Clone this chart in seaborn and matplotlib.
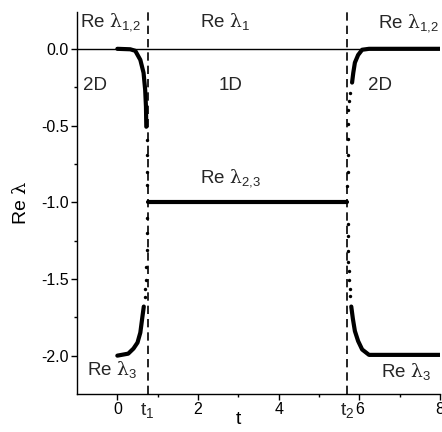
import matplotlib
matplotlib.use("Agg")
import matplotlib.pyplot as plt
import matplotlib.transforms as mtransforms
import seaborn as sns

# ---- data ----
t1 = 0.75
t2 = 5.69

# left branches (0 <= t < t1)
lu_t = [0.0, 0.32, 0.445, 0.57, 0.65, 0.69, 0.71, 0.718]
lu_y = [0.0, -0.003, -0.013, -0.072, -0.156, -0.267, -0.378, -0.508]
lu_dot_t = [0.725, 0.73, 0.735, 0.74]
lu_dot_y = [-0.593, -0.691, -0.801, -0.886]

ll_t = [0.0, 0.27, 0.40, 0.50, 0.57, 0.62, 0.656]
ll_y = [-2.0, -1.987, -1.954, -1.915, -1.85, -1.75, -1.68]
ll_dot_t = [0.68, 0.69, 0.70, 0.71, 0.725, 0.74, 0.74]
ll_dot_y = [-1.616, -1.564, -1.505, -1.42, -1.31, -1.20, -1.10]

# right branches (t > t2)
ru_t = [5.82, 5.85, 5.89, 5.97, 6.07, 6.24, 8.0]
ru_y = [-0.22, -0.156, -0.09, -0.04, -0.006, 0.0, 0.0]
ru_dot_t = [5.705, 5.71, 5.71, 5.72, 5.72, 5.725, 5.74, 5.77]
ru_dot_y = [-0.896, -0.80, -0.69, -0.59, -0.49, -0.40, -0.34, -0.29]

rl_t = [5.80, 5.84, 5.89, 5.97, 6.07, 6.24, 8.0]
rl_y = [-1.68, -1.76, -1.84, -1.905, -1.96, -1.995, -1.995]
rl_dot_t = [5.72, 5.72, 5.72, 5.73, 5.74, 5.755, 5.77, 5.78]
rl_dot_y = [-1.143, -1.22, -1.32, -1.39, -1.45, -1.51, -1.565, -1.61]

# middle region
mid_t = [t1, t2]
mid_y = [-1.0, -1.0]
zero_t = [-1.0, 8.0]
zero_y = [0.0, 0.0]

x_ticks = [0, 2, 4, 6, 8]
y_ticks = [0.0, -0.5, -1.0, -1.5, -2.0]

# ---- style ----
sns.set_style("ticks")
plt.rcParams["font.family"] = ["Liberation Sans", "DejaVu Sans"]
plt.rcParams["mathtext.fontset"] = "custom"
plt.rcParams["mathtext.rm"] = "Liberation Sans"
plt.rcParams["mathtext.it"] = "DejaVu Serif"
plt.rcParams["mathtext.bf"] = "Liberation Sans:bold"

fig = plt.figure(figsize=(4.42, 4.32), dpi=100)
ax = fig.add_axes([77 / 442, 38 / 432, 363 / 442, 382 / 432])

K = "black"
sns.lineplot(x=zero_t, y=zero_y, ax=ax, color=K, lw=1.0, estimator=None, sort=False)
sns.lineplot(x=mid_t, y=mid_y, ax=ax, color=K, lw=3.0, estimator=None, sort=False)
for tt, yy in [(lu_t, lu_y), (ll_t, ll_y), (ru_t, ru_y), (rl_t, rl_y)]:
    sns.lineplot(x=tt, y=yy, ax=ax, color=K, lw=3.0, estimator=None, sort=False)
for tt, yy in [(lu_dot_t, lu_dot_y), (ll_dot_t, ll_dot_y), (ru_dot_t, ru_dot_y), (rl_dot_t, rl_dot_y)]:
    sns.scatterplot(x=tt, y=yy, ax=ax, color=K, s=6, linewidth=0)

for tv in (t1, t2):
    ax.axvline(tv, color=K, lw=1.2, linestyle=(0, (5, 3)))

ax.set_xlim(-1, 8)
ax.set_ylim(-2.25, 0.24)
ax.set_xticks(x_ticks)
ax.set_xticklabels([str(v) for v in x_ticks])
ax.set_xticks([1, 3, 5, 7], minor=True)
ax.set_yticks(y_ticks)
ax.set_yticklabels([f"{v:.1f}" for v in y_ticks])
ax.set_yticks([-0.25, -0.75, -1.25, -1.75], minor=True)
ax.tick_params(axis="both", which="major", direction="out", length=4, width=1,
               labelsize=11.5, color=K, labelcolor=K, pad=2)
ax.tick_params(axis="both", which="minor", direction="out", length=2, width=1, color=K)
sns.despine(ax=ax, top=True, right=True)
for s in ("left", "bottom"):
    ax.spines[s].set_color(K)
    ax.spines[s].set_linewidth(1.0)

ax.set_ylabel(r"Re $\lambda$", fontsize=14, labelpad=8, color=K)
ax.set_xlabel("t", fontsize=14, color=K)
ax.xaxis.set_label_coords((238 - 77) / 363, -0.045)

fs = 13.5
ax.text(-0.92, 0.143, r"Re $\lambda_{1,\!2}$", fontsize=fs, ha="left", va="baseline")
ax.text(2.05, 0.143, r"Re $\lambda_{1}$", fontsize=fs, ha="left", va="baseline")
ax.text(6.46, 0.14, r"Re $\lambda_{1,\!2}$", fontsize=fs, ha="left", va="baseline")
ax.text(-0.84, -0.267, "2D", fontsize=fs, ha="left", va="baseline")
ax.text(2.52, -0.267, "1D", fontsize=fs, ha="left", va="baseline")
ax.text(6.21, -0.267, "2D", fontsize=fs, ha="left", va="baseline")
ax.text(2.05, -0.873, r"Re $\lambda_{2,\!3}$", fontsize=fs, ha="left", va="baseline")
ax.text(-0.74, -2.124, r"Re $\lambda_{3}$", fontsize=fs, ha="left", va="baseline")
ax.text(6.53, -2.137, r"Re $\lambda_{3}$", fontsize=fs, ha="left", va="baseline")

trans = mtransforms.blended_transform_factory(ax.transData, ax.transAxes)
ax.text(t1, -0.018, r"t$_1$", fontsize=14, ha="center", va="top", transform=trans)
ax.text(t2, -0.018, r"t$_2$", fontsize=14, ha="center", va="top", transform=trans)

fig.savefig("out.png", dpi=100)
